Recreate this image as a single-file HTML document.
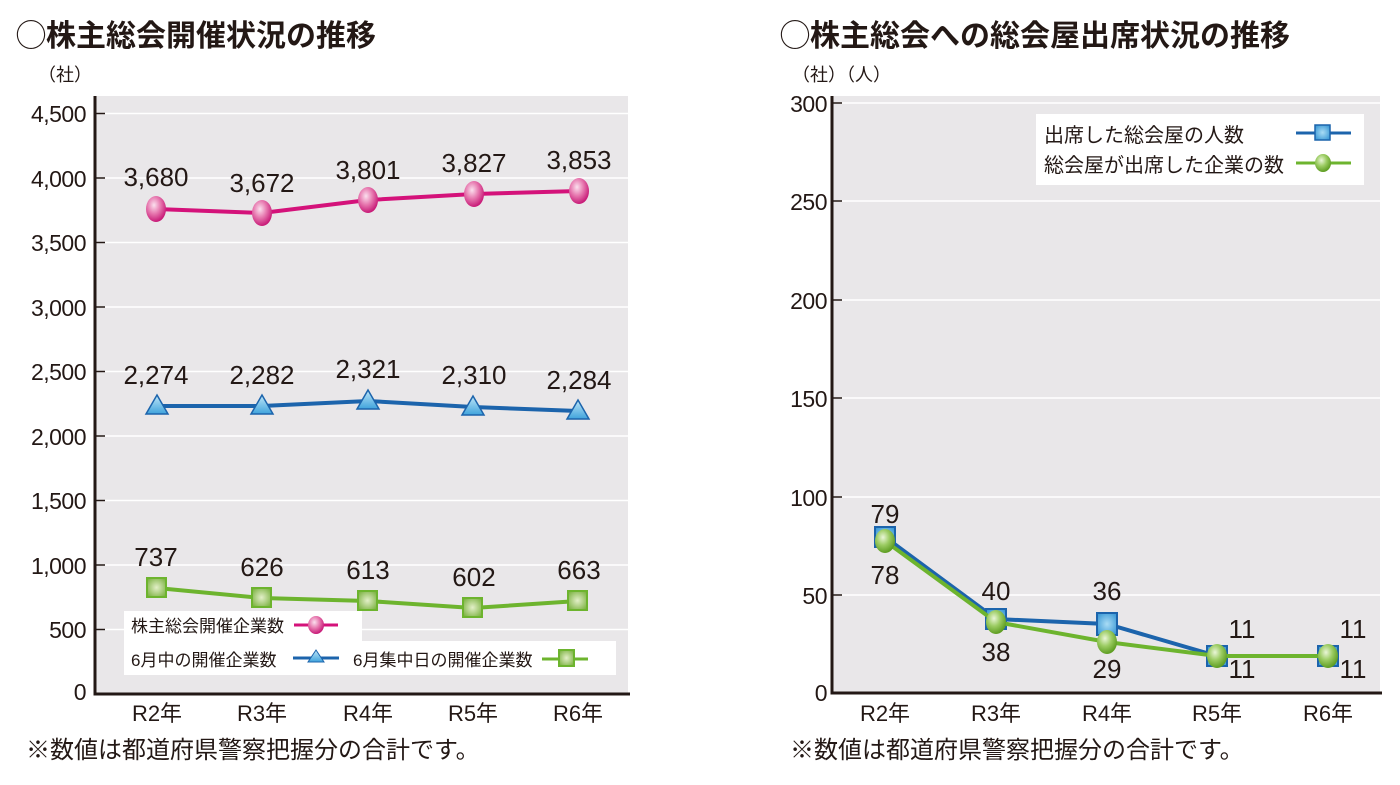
<!DOCTYPE html>
<html><head><meta charset="utf-8"><style>
body{margin:0;background:#fff;}
svg text{font-family:"Liberation Sans","Noto Sans CJK JP",sans-serif;fill:#231815;}
</style></head><body>
<svg width="1400" height="780" viewBox="0 0 1400 780" xmlns="http://www.w3.org/2000/svg">
<defs>
<radialGradient id="pk" cx="40%" cy="35%" r="65%"><stop offset="0" stop-color="#fbe0ee"/><stop offset="0.5" stop-color="#e77ab0"/><stop offset="1" stop-color="#c81b78"/></radialGradient>
<radialGradient id="gr" cx="40%" cy="35%" r="65%"><stop offset="0" stop-color="#eaf6d8"/><stop offset="0.5" stop-color="#9ccc63"/><stop offset="1" stop-color="#5e9d22"/></radialGradient>
<radialGradient id="gs" cx="50%" cy="50%" r="60%"><stop offset="0" stop-color="#e3efc8"/><stop offset="1" stop-color="#7fb446"/></radialGradient>
<radialGradient id="bs" cx="50%" cy="50%" r="60%"><stop offset="0" stop-color="#a9dcf5"/><stop offset="1" stop-color="#3d9ad6"/></radialGradient>
<linearGradient id="bt" x1="0" y1="0" x2="0" y2="1"><stop offset="0" stop-color="#bfe6f8"/><stop offset="1" stop-color="#3fa3dc"/></linearGradient>
</defs>
<text x="16" y="46" font-size="30" font-weight="bold">◯株主総会開催状況の推移</text>
<text x="780" y="46" font-size="30" font-weight="bold">◯株主総会への総会屋出席状況の推移</text>

<!-- left chart -->
<rect x="95" y="96" width="533" height="598" fill="#e9e7e9"/>
<g stroke="#fff" stroke-width="1.5">
<line x1="96" x2="628" y1="113.5" y2="113.5"/><line x1="96" x2="628" y1="178" y2="178"/><line x1="96" x2="628" y1="242.5" y2="242.5"/><line x1="96" x2="628" y1="307" y2="307"/><line x1="96" x2="628" y1="371.5" y2="371.5"/><line x1="96" x2="628" y1="436" y2="436"/><line x1="96" x2="628" y1="500.5" y2="500.5"/><line x1="96" x2="628" y1="565" y2="565"/><line x1="96" x2="628" y1="629.5" y2="629.5"/>
</g>
<g stroke="#231815" stroke-width="1.5">
<line x1="96" x2="105" y1="113.5" y2="113.5"/><line x1="96" x2="105" y1="178" y2="178"/><line x1="96" x2="105" y1="242.5" y2="242.5"/><line x1="96" x2="105" y1="307" y2="307"/><line x1="96" x2="105" y1="371.5" y2="371.5"/><line x1="96" x2="105" y1="436" y2="436"/><line x1="96" x2="105" y1="500.5" y2="500.5"/><line x1="96" x2="105" y1="565" y2="565"/><line x1="96" x2="105" y1="629.5" y2="629.5"/>
</g>
<path d="M95 96 V694 H630" fill="none" stroke="#231815" stroke-width="3"/>
<g font-size="23" text-anchor="end" letter-spacing="-0.5">
<text x="86" y="122">4,500</text><text x="86" y="187">4,000</text><text x="86" y="251">3,500</text><text x="86" y="316">3,000</text><text x="86" y="380">2,500</text><text x="86" y="445">2,000</text><text x="86" y="509">1,500</text><text x="86" y="574">1,000</text><text x="86" y="638">500</text><text x="86" y="700">0</text>
</g>
<text x="38" y="81" font-size="18">（社）</text>
<g font-size="22" text-anchor="middle">
<text x="157" y="721">R2年</text><text x="262" y="721">R3年</text><text x="368" y="721">R4年</text><text x="473" y="721">R5年</text><text x="578" y="721">R6年</text>
</g>
<text x="26" y="758" font-size="24">※数値は都道府県警察把握分の合計です。</text>

<polyline points="156,209 262,213 368,200 474,194 579,191" fill="none" stroke="#d4127a" stroke-width="4"/>
<g fill="url(#pk)"><ellipse cx="156" cy="209" rx="10" ry="13"/><ellipse cx="262" cy="213" rx="10" ry="13"/><ellipse cx="368" cy="200" rx="10" ry="13"/><ellipse cx="474" cy="194" rx="10" ry="13"/><ellipse cx="579" cy="191" rx="10" ry="13"/></g>
<g font-size="26" text-anchor="middle">
<text x="156" y="186">3,680</text><text x="262" y="192">3,672</text><text x="368" y="179">3,801</text><text x="474" y="172">3,827</text><text x="579" y="169">3,853</text>
<text x="156" y="384">2,274</text><text x="262" y="384">2,282</text><text x="368" y="378">2,321</text><text x="474" y="384">2,310</text><text x="579" y="389">2,284</text>
<text x="156" y="566">737</text><text x="262" y="576">626</text><text x="368" y="579">613</text><text x="474" y="586">602</text><text x="579" y="579">663</text>
</g>
<polyline points="157,406 262,406 368,401 473,407 578,411" fill="none" stroke="#1c64ac" stroke-width="4"/>
<g fill="url(#bt)" stroke="#1c64ac" stroke-width="1.5">
<polygon points="157,395 146,414 168,414"/><polygon points="262,395 251,414 273,414"/><polygon points="368,390 357,409 379,409"/><polygon points="473,396 462,415 484,415"/><polygon points="578,400 567,419 589,419"/>
</g>
<polyline points="157,588 262,598 368,601 473,608 578,601" fill="none" stroke="#6db42e" stroke-width="4"/>
<g fill="url(#gs)" stroke="#6db42e" stroke-width="2">
<rect x="147" y="578" width="19" height="19"/><rect x="252" y="588" width="19" height="19"/><rect x="358" y="591" width="19" height="19"/><rect x="463" y="598" width="19" height="19"/><rect x="568" y="591" width="19" height="19"/>
</g>
<!-- left legend -->
<rect x="124" y="611" width="238" height="30" fill="#fff"/>
<rect x="124" y="641" width="492" height="34" fill="#fff"/>
<g font-size="17"><text x="131" y="632">株主総会開催企業数</text><text x="131" y="666">6月中の開催企業数</text><text x="353" y="666">6月集中日の開催企業数</text></g>
<line x1="294" x2="338" y1="625" y2="625" stroke="#d4127a" stroke-width="3"/><ellipse cx="316" cy="625" rx="8" ry="9" fill="url(#pk)"/>
<line x1="293" x2="339" y1="658" y2="658" stroke="#1c64ac" stroke-width="3"/><polygon points="316,650 308,662 324,662" fill="url(#bt)" stroke="#1c64ac"/>
<line x1="542" x2="588" y1="659" y2="659" stroke="#6db42e" stroke-width="3"/><rect x="559" y="650" width="15" height="16" fill="url(#gs)" stroke="#6db42e" stroke-width="2"/>

<!-- right chart -->
<rect x="832" y="96" width="548" height="598" fill="#e9e7e9"/>
<g stroke="#fff" stroke-width="1.5">
<line x1="833" x2="1380" y1="103" y2="103"/><line x1="833" x2="1380" y1="201" y2="201"/><line x1="833" x2="1380" y1="300" y2="300"/><line x1="833" x2="1380" y1="398" y2="398"/><line x1="833" x2="1380" y1="497" y2="497"/><line x1="833" x2="1380" y1="595" y2="595"/>
</g>
<g stroke="#231815" stroke-width="1.5">
<line x1="833" x2="842" y1="103" y2="103"/><line x1="833" x2="842" y1="201" y2="201"/><line x1="833" x2="842" y1="300" y2="300"/><line x1="833" x2="842" y1="398" y2="398"/><line x1="833" x2="842" y1="497" y2="497"/><line x1="833" x2="842" y1="595" y2="595"/>
</g>
<path d="M832 96 V693 H1382" fill="none" stroke="#231815" stroke-width="3"/>
<g font-size="23" text-anchor="end" letter-spacing="-0.5">
<text x="827" y="112">300</text><text x="827" y="210">250</text><text x="827" y="309">200</text><text x="827" y="407">150</text><text x="827" y="506">100</text><text x="827" y="604">50</text><text x="827" y="701">0</text>
</g>
<text x="792" y="81" font-size="18">（社）（人）</text>
<g font-size="22" text-anchor="middle">
<text x="885" y="721">R2年</text><text x="996" y="721">R3年</text><text x="1107" y="721">R4年</text><text x="1217" y="721">R5年</text><text x="1328" y="721">R6年</text>
</g>
<text x="790" y="758" font-size="24">※数値は都道府県警察把握分の合計です。</text>
<polyline points="885,537 996,619 1107,624 1217,656 1328,656" fill="none" stroke="#1c64ac" stroke-width="4"/>
<g fill="url(#bs)" stroke="#1c64ac" stroke-width="2">
<rect x="875" y="527" width="20" height="20"/><rect x="986" y="609" width="20" height="20"/><rect x="1097" y="613" width="20" height="22"/><rect x="1207" y="646" width="20" height="20"/><rect x="1318" y="646" width="20" height="20"/>
</g>
<polyline points="885,541 996,622 1107,642 1217,656 1328,656" fill="none" stroke="#6db42e" stroke-width="4"/>
<g fill="url(#gr)"><ellipse cx="885" cy="541" rx="10" ry="12"/><ellipse cx="996" cy="622" rx="10" ry="12"/><ellipse cx="1107" cy="642" rx="10" ry="12"/><ellipse cx="1217" cy="656" rx="10" ry="12"/><ellipse cx="1328" cy="656" rx="10" ry="12"/></g>
<g font-size="26" text-anchor="middle">
<text x="885" y="523">79</text><text x="885" y="584">78</text>
<text x="996" y="600">40</text><text x="996" y="661">38</text>
<text x="1107" y="600">36</text><text x="1107" y="678">29</text>
<text x="1242" y="638">11</text><text x="1242" y="678">11</text>
<text x="1353" y="638">11</text><text x="1353" y="678">11</text>
</g>
<rect x="1036" y="114" width="328" height="71" fill="#fff"/>
<g font-size="20"><text x="1044" y="142">出席した総会屋の人数</text><text x="1044" y="172">総会屋が出席した企業の数</text></g>
<line x1="1296" x2="1351" y1="133" y2="133" stroke="#1c64ac" stroke-width="3"/><rect x="1315" y="125" width="15" height="15" fill="url(#bs)" stroke="#1c64ac" stroke-width="1.5"/>
<line x1="1296" x2="1351" y1="163" y2="163" stroke="#6db42e" stroke-width="3"/><ellipse cx="1323" cy="163" rx="8" ry="9" fill="url(#gr)"/>
</svg>
</body></html>
